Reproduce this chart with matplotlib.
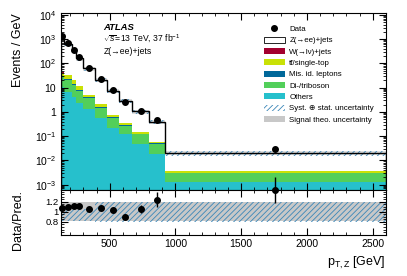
import numpy as np
import matplotlib.pyplot as plt
from matplotlib.patches import Patch
from matplotlib.lines import Line2D
from matplotlib.ticker import LogLocator, MultipleLocator, FuncFormatter, NullFormatter

plt.rcParams['font.family'] = ['Liberation Sans', 'DejaVu Sans']
plt.rcParams['mathtext.fontset'] = 'custom'
plt.rcParams['mathtext.rm'] = 'Liberation Sans'
plt.rcParams['mathtext.it'] = 'Liberation Sans:italic'
plt.rcParams['hatch.linewidth'] = 0.6

# bins in p_T,Z [GeV]
edges = [130, 150, 210, 240, 300, 390, 480, 570, 670, 800, 920, 2600]

# events / GeV
others = [10.4, 6.5, 4.1, 2.3, 1.29, 0.55, 0.217, 0.125, 0.0455, 0.0179, 1.26e-3]
diboson = [16.1, 13.5, 8.4, 4.8, 2.41, 0.95, 0.353, 0.135, 0.0765, 0.0307, 1.64e-3]
misid = [4.0, 2.0, 1.2, 0.7, 0.4, 0.14, 0.04, 0.017, 0.006, 0.0029, 2e-4]
ttbar = [11.5, 10.0, 6.3, 3.6, 0.8, 0.46, 0.145, 0.07, 0.016, 0.005, 4e-4]
wjets = [0.3, 0.2, 0.1, 0.05, 0.02, 0.008, 0.003, 0.001, 5e-4, 2e-4, 1e-5]
zjets = [1208, 623, 300, 148.5, 57, 18.3, 6.74, 2.55, 0.895, 0.323, 0.0161]

data = [1350, 720, 355, 177, 65, 22, 7.8, 2.6, 1.1, 0.47, 0.029]
data_err_rel = [0.01, 0.01, 0.01, 0.015, 0.02, 0.03, 0.04, 0.06, 0.08, 0.12, 0.17]

# relative uncertainties
syst_up = [0.05, 0.05, 0.05, 0.05, 0.05, 0.19, 0.19, 0.19, 0.2, 0.2, 0.2]
syst_dn = [0.19, 0.19, 0.19, 0.19, 0.19, 0.2, 0.2, 0.2, 0.2, 0.2, 0.2]
theo = [0.19, 0.19, 0.19, 0.19, 0.19, 0.19, 0.19, 0.19, 0.19, 0.19, 0.19]

edges = np.array(edges)
centers = 0.5 * (edges[1:] + edges[:-1])
data = np.array(data)

comps = [
    (others, '#26c0cc'),
    (diboson, '#52cf5a'),
    (misid, '#00689a'),
    (ttbar, '#c9e106'),
    (wjets, '#a3002f'),
    (zjets, 'white'),
]

fig = plt.figure(figsize=(4.07, 2.76), dpi=100)
ax = fig.add_axes([0.150, 0.3116, 0.798, 0.6415])
rax = fig.add_axes([0.150, 0.150, 0.798, 0.1616], sharex=ax)

# stacked backgrounds + signal
bottom = np.full(len(centers), 1e-6)
for vals, col in comps:
    top = bottom + np.array(vals)
    ax.stairs(top, edges, baseline=bottom, fill=True, color=col, lw=0)
    bottom = top
total = bottom

ax.stairs(total * (1 + np.array(theo)), edges, baseline=total * (1 - np.array(theo)),
          fill=True, color='#c8c8c8', lw=0, alpha=0.6)
ax.stairs(total * (1 + np.array(syst_up)), edges, baseline=total * (1 - np.array(syst_dn)),
          fill=True, facecolor='none', edgecolor='#3a86b8', hatch='//////', lw=0)
ax.stairs(total, edges, color='black', lw=1.0)

ax.errorbar(centers, data, yerr=data * np.array(data_err_rel), fmt='o', color='black',
            ms=4, lw=1, capsize=0)

ax.set_yscale('log')
ax.set_ylim(6e-4, 1.2e4)
ax.set_xlim(130, 2600)


def log_fmt(v, pos):
    e = int(round(np.log10(v)))
    if e == 0:
        return '1'
    if e == 1:
        return '10'
    return r'$\mathregular{10^{%d}}$' % e


ax.yaxis.set_major_locator(LogLocator(base=10, numticks=20))
ax.yaxis.set_minor_locator(LogLocator(base=10, subs=np.arange(2, 10), numticks=200))
ax.yaxis.set_major_formatter(FuncFormatter(log_fmt))
ax.yaxis.set_minor_formatter(NullFormatter())
ax.set_ylabel('Events / GeV', fontsize=9, loc='top')
ax.yaxis.set_label_coords(-0.115, 1.0)
plt.setp(ax.get_xticklabels(), visible=False)

ax.text(0.13, 0.915, 'ATLAS', transform=ax.transAxes, fontsize=6.8,
        fontweight='bold', style='italic', va='center')
ax.text(0.13, 0.852, r'$\sqrt{s}$=13 TeV, 37 fb$^{-1}$', transform=ax.transAxes,
        fontsize=6.2, va='center')
ax.text(0.13, 0.785, 'Z(→ee)+jets', transform=ax.transAxes, fontsize=6.2, va='center')

handles = [
    Line2D([], [], marker='o', color='black', ls='none', ms=4),
    Patch(facecolor='white', edgecolor='black', lw=0.6),
    Patch(facecolor='#a3002f'),
    Patch(facecolor='#c9e106'),
    Patch(facecolor='#00689a'),
    Patch(facecolor='#52cf5a'),
    Patch(facecolor='#26c0cc'),
    Patch(facecolor='none', edgecolor='#3a86b8', hatch='//////', lw=0),
    Patch(facecolor='#c8c8c8'),
]
labels = ['Data', 'Z(→ee)+jets', 'W(→lν)+jets', 'tt\u0304/single-top',
          'Mis. id. leptons', 'Di-/triboson', 'Others',
          'Syst. ⊕ stat. uncertainty', 'Signal theo. uncertainty']
ax.legend(handles, labels, loc='upper left', bbox_to_anchor=(0.615, 0.948),
          fontsize=5.7, frameon=False, handlelength=2.6, handleheight=0.8,
          labelspacing=0.45, handletextpad=0.6, borderaxespad=0)

# ratio panel
ratio = data / total
r_top = 1.43
rax.stairs(1 + np.array(theo), edges, baseline=1 - np.array(theo),
           fill=True, color='#c8c8c8', lw=0)
rax.stairs(1 + np.array(syst_up), edges, baseline=1 - np.array(syst_dn),
           fill=True, facecolor='none', edgecolor='#3a86b8', hatch='//////', lw=0)
rax.errorbar(centers, np.minimum(ratio, r_top), yerr=ratio * np.array(data_err_rel),
             fmt='o', color='black', ms=4, lw=1, capsize=0, clip_on=False)
rax.set_ylim(0.55, r_top)
rax.yaxis.set_minor_locator(MultipleLocator(0.05))
rax.set_yticks([0.8, 1.0, 1.2])
rax.set_yticklabels(['0.8', '1', '1.2'])
rax.xaxis.set_major_locator(MultipleLocator(500))
rax.xaxis.set_minor_locator(MultipleLocator(100))
rax.set_xlim(130, 2600)
rax.set_ylabel('Data/Pred.', fontsize=9, loc='top')
rax.yaxis.set_label_coords(-0.115, 1.0)
rax.set_xlabel(r'p$_{\mathregular{T,Z}}$ [GeV]', fontsize=9, loc='right')

for a in (ax, rax):
    a.tick_params(which='both', direction='in', top=True, right=True, labelsize=7.5)
    a.tick_params(which='major', length=5, width=0.8)
    a.tick_params(which='minor', length=2.5, width=0.6)
    a.set_axisbelow(False)
rax.tick_params(axis='y', labelsize=6.8, pad=2)

fig.savefig('out.png', dpi=100)
